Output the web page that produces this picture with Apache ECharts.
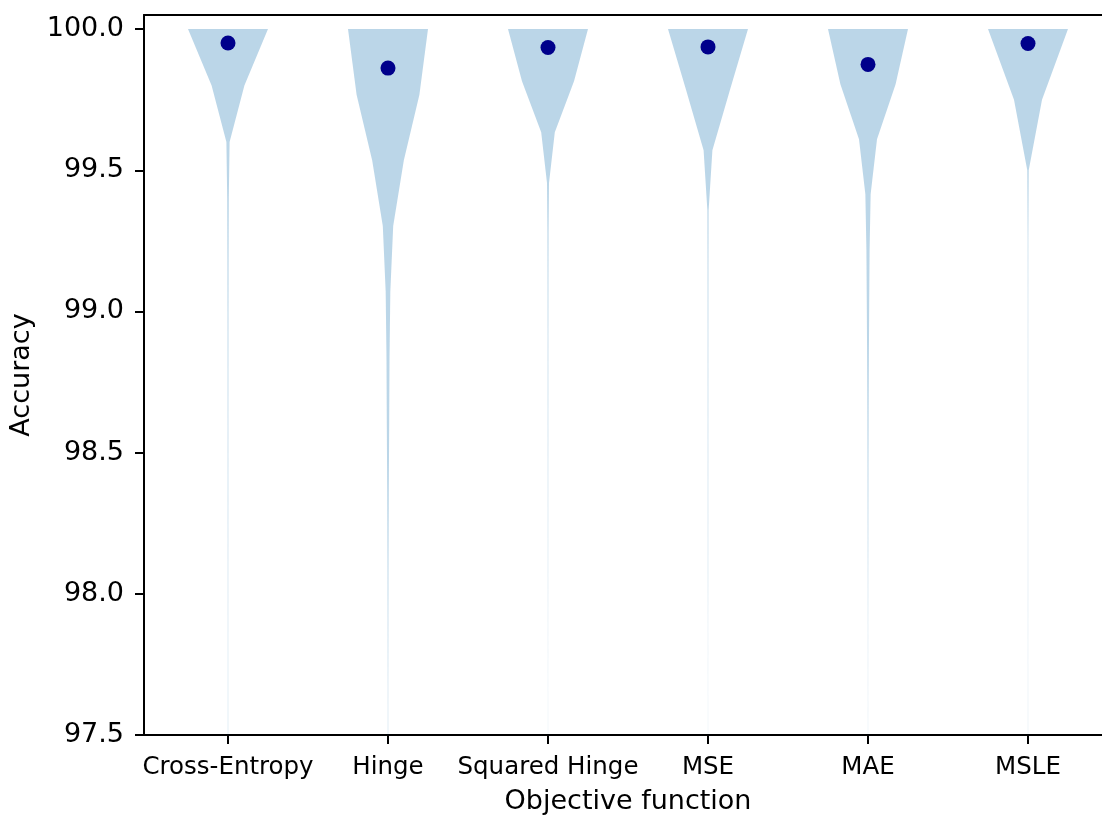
<!DOCTYPE html>
<html>
<head>
<meta charset="utf-8">
<title>Accuracy by objective function</title>
<script src="https://cdn.jsdelivr.net/npm/echarts@6/dist/echarts.min.js"></script>
<style>
  html, body { margin: 0; padding: 0; background: #fff; overflow: hidden; }
  #chart { width: 1102px; height: 818px; }
</style>
</head>
<body>
<div id="chart"></div>
<script>
// Objective functions shown along the x axis (positions 1..6)
const categories = ['Cross-Entropy', 'Hinge', 'Squared Hinge', 'MSE', 'MAE', 'MSLE'];

// Mean accuracy for each objective function
const means = [99.951, 99.862, 99.935, 99.937, 99.875, 99.949];

// Kernel density profiles: [accuracy, density scaled so the widest point is 1]
const crossEntropyKde = [
  [100.0, 1.00], [99.8, 0.41], [99.6, 0.04], [99.4, 0.02], [99.2, 0.015],
  [99.0, 0.012], [98.8, 0.010], [98.6, 0.009], [98.4, 0.008], [98.2, 0.007],
  [98.0, 0.006], [97.8, 0.005], [97.6, 0.005], [97.4, 0.005]
];
const hingeKde = [
  [100.0, 1.00], [99.7675, 0.785], [99.535, 0.395], [99.3025, 0.13], [99.07, 0.058],
  [98.8375, 0.038], [98.605, 0.030], [98.3725, 0.020], [98.14, 0.013], [97.9075, 0.009],
  [97.675, 0.006], [97.4425, 0.005]
];
const squaredHingeKde = [
  [100.0, 1.00], [99.815, 0.65], [99.635, 0.17], [99.455, 0.025], [99.275, 0.014],
  [99.095, 0.011], [98.915, 0.009], [98.735, 0.008], [98.555, 0.007], [98.375, 0.006],
  [98.195, 0.005], [98.015, 0.004], [97.835, 0.003], [97.655, 0.002], [97.475, 0.002]
];
const mseKde = [
  [100.0, 1.00], [99.7855, 0.55], [99.571, 0.11], [99.3565, 0.015], [99.142, 0.011],
  [98.9275, 0.009], [98.713, 0.008], [98.4985, 0.007], [98.284, 0.006], [98.0695, 0.005],
  [97.855, 0.003], [97.6405, 0.002], [97.426, 0.002]
];
const maeKde = [
  [100.0, 1.00], [99.805, 0.69], [99.61, 0.225], [99.415, 0.066], [99.22, 0.040],
  [99.025, 0.030], [98.83, 0.022], [98.635, 0.016], [98.44, 0.012], [98.245, 0.009],
  [98.05, 0.006], [97.855, 0.004], [97.66, 0.003], [97.465, 0.002]
];
const msleKde = [
  [100.0, 1.00], [99.75, 0.35], [99.5, 0.018], [99.25, 0.008], [99.0, 0.006],
  [98.75, 0.005], [98.5, 0.005], [98.25, 0.004], [98.0, 0.004], [97.75, 0.003],
  [97.5, 0.003]
];

// Y axis tick labels
const yTicks = [97.5, 98.0, 98.5, 99.0, 99.5, 100.0];

const profiles = [crossEntropyKde, hingeKde, squaredHingeKde, mseKde, maeKde, msleKde];
const positions = categories.map((c, i) => i + 1);

const HALF_WIDTH = 0.25;   // half of the violin width at peak density
const FONT = 'DejaVu Sans';
const X_MIN = 0.475, X_MAX = 6.525;

const chart = echarts.init(document.getElementById('chart'), null, { renderer: 'canvas' });

chart.setOption({
  animation: false,
  backgroundColor: '#ffffff',
  grid: {
    left: 144, top: 15, right: -10, bottom: 83,
    show: false,
    outerBoundsMode: 'none'
  },
  xAxis: [
    {
      type: 'value',
      min: X_MIN, max: X_MAX,
      name: 'Objective function',
      nameLocation: 'middle',
      nameGap: 53,
      nameTextStyle: { fontFamily: FONT, fontSize: 27, color: '#000' },
      axisLine: { show: true, onZero: false, lineStyle: { color: '#000', width: 2 } },
      axisTick: { show: true, customValues: positions, length: 9, lineStyle: { color: '#000', width: 2 } },
      axisLabel: {
        customValues: positions,
        formatter: v => categories[Math.round(v) - 1] || '',
        margin: 20, fontFamily: FONT, fontSize: 24.5, color: '#000'
      },
      splitLine: { show: false }
    },
    {
      // top frame line
      type: 'value',
      position: 'top',
      min: X_MIN, max: X_MAX,
      axisLine: { show: true, onZero: false, lineStyle: { color: '#000', width: 2 } },
      axisTick: { show: false },
      axisLabel: { show: false },
      splitLine: { show: false }
    }
  ],
  yAxis: {
    type: 'value',
    min: 97.5, max: 100.05, interval: 0.5,
    name: 'Accuracy',
    nameLocation: 'middle',
    nameGap: 105,
    nameTextStyle: { fontFamily: FONT, fontSize: 27, color: '#000' },
    axisLine: { show: true, onZero: false, lineStyle: { color: '#000', width: 2 } },
    axisTick: { show: true, customValues: yTicks, length: 9, lineStyle: { color: '#000', width: 2 } },
    axisLabel: {
      customValues: yTicks,
      formatter: v => v.toFixed(1),
      margin: 20, fontFamily: FONT, fontSize: 27, color: '#000'
    },
    splitLine: { show: false }
  },
  series: [
    {
      // violin bodies, mirrored around each category position
      type: 'custom',
      clip: true,
      data: positions.map(p => [p, 100]),
      encode: { x: 0, y: 1 },
      renderItem: function (params, api) {
        const pos = api.value(0);
        const prof = profiles[params.dataIndex];
        const right = prof.map(([v, d]) => api.coord([pos + d * HALF_WIDTH, v]));
        const left = prof.map(([v, d]) => api.coord([pos - d * HALF_WIDTH, v])).reverse();
        return {
          type: 'polygon',
          shape: { points: right.concat(left) },
          style: { fill: 'rgba(31,119,180,0.3)', stroke: null }
        };
      },
      z: 2
    },
    {
      // mean markers
      type: 'scatter',
      data: positions.map((p, i) => [p, means[i]]),
      symbol: 'circle',
      symbolSize: 15,
      itemStyle: { color: '#00008b', opacity: 1 },
      z: 3
    }
  ]
});
</script>
</body>
</html>
